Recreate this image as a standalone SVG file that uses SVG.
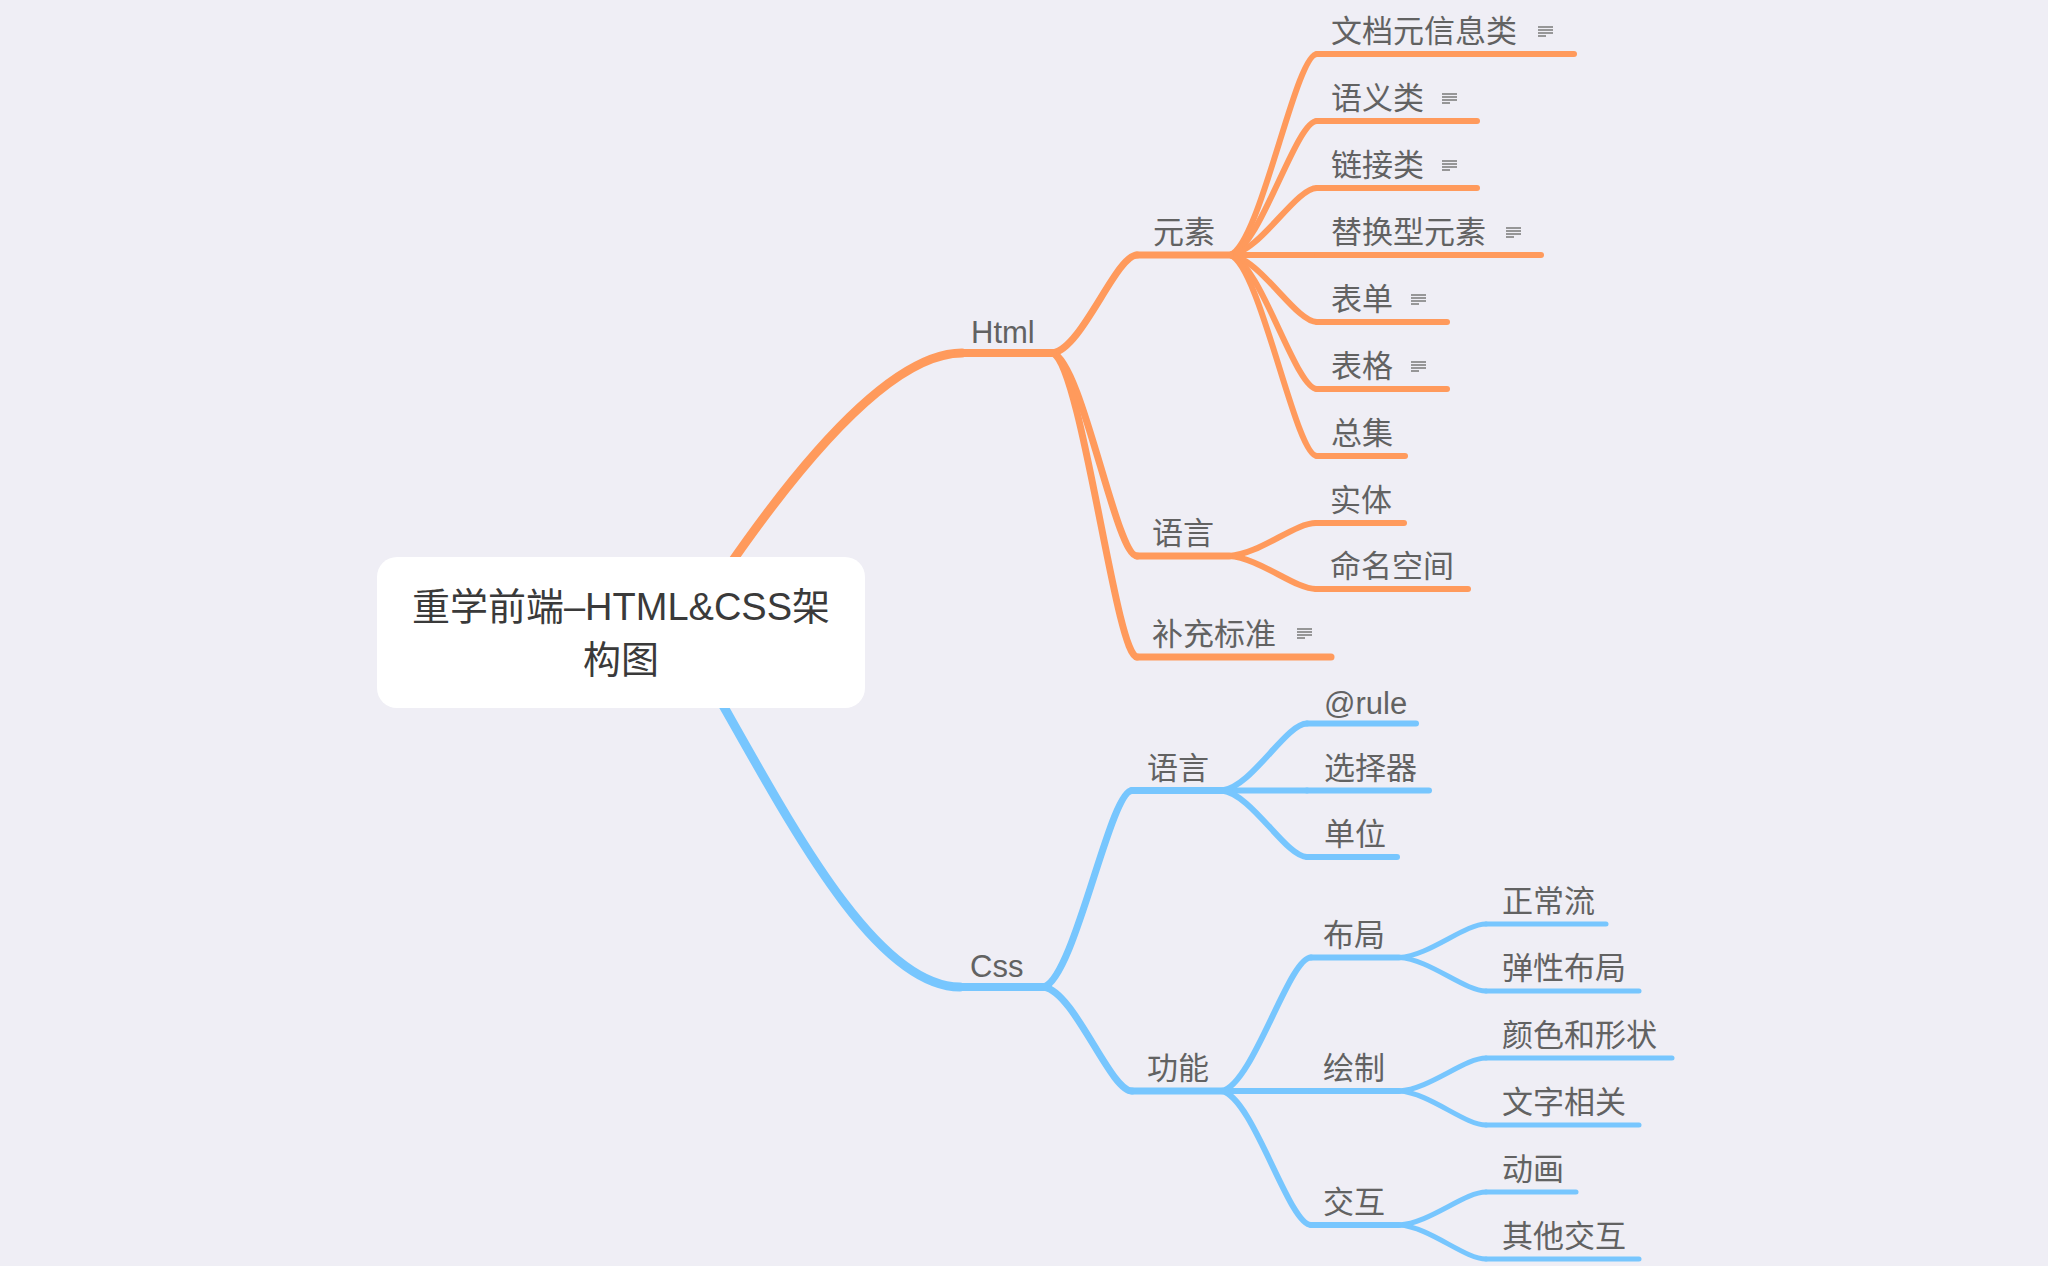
<svg xmlns="http://www.w3.org/2000/svg" xmlns:xlink="http://www.w3.org/1999/xlink" width="2048" height="1266" viewBox="0 0 2048 1266">
<defs>
<style>
.o{stroke:#FF9A5C;fill:none;stroke-linecap:round;stroke-linejoin:round}
.b{stroke:#77C6FE;fill:none;stroke-linecap:round;stroke-linejoin:round}
.w1{stroke-width:9}
.w2{stroke-width:7}
.w3{stroke-width:6}
.w4{stroke-width:5}
.t{font-family:"Liberation Sans","Noto Sans CJK SC",sans-serif;font-size:31px;fill:#626262}
.root{font-family:"Liberation Sans","Noto Sans CJK SC",sans-serif;font-size:38px;fill:#3a3a3a;text-anchor:middle}
.nl{stroke:#808080;stroke-width:1.6;fill:none}
</style>
<g id="note">
<line class="nl" x1="0" y1="0" x2="15" y2="0"/>
<line class="nl" x1="0" y1="3" x2="15" y2="3"/>
<line class="nl" x1="0" y1="6" x2="15" y2="6"/>
<line class="nl" x1="0" y1="9" x2="8" y2="9"/>
</g>
</defs>
<rect x="0" y="0" width="2048" height="1266" fill="#EFEEF5"/>

<g id="connectors">
<path class="o w1" d="M685 632 C757 520 875 353 962 353"/>
<path class="b w1" d="M680 632 C760 760 860 987 960 987"/>
<path class="o w2" d="M1053 353 C1082.4 348.1 1116 255 1137 255"/>
<path class="o w2" d="M1053 353 C1082.4 363.2 1116 556 1137 556"/>
<path class="o w2" d="M1053 353 C1082.4 368.2 1116 657 1137 657"/>
<path class="o w3" d="M1230 255 C1260.5 245 1295.3 54 1317 54"/>
<path class="o w3" d="M1230 255 C1260.5 248.3 1295.3 121 1317 121"/>
<path class="o w3" d="M1230 255 C1260.5 251.7 1295.3 188 1317 188"/>
<path class="o w3" d="M1230 255 L1317 255"/>
<path class="o w3" d="M1230 255 C1260.5 258.4 1295.3 322 1317 322"/>
<path class="o w3" d="M1230 255 C1260.5 261.7 1295.3 389 1317 389"/>
<path class="o w3" d="M1230 255 C1260.5 265 1295.3 456 1317 456"/>
<path class="o w3" d="M1229 556 C1259.5 554.4 1294.3 523 1316 523"/>
<path class="o w3" d="M1229 556 C1259.5 557.7 1294.3 589 1316 589"/>
<path class="b w2" d="M1044 987 C1074.8 977.2 1110 790.5 1132 790.5"/>
<path class="b w2" d="M1044 987 C1074.8 992.2 1110 1091 1132 1091"/>
<path class="b w3" d="M1222 790.5 C1251.8 787.2 1285.8 723.5 1307 723.5"/>
<path class="b w3" d="M1222 790.5 L1307 790.5"/>
<path class="b w3" d="M1222 790.5 C1251.8 793.8 1285.8 857 1307 857"/>
<path class="b w3" d="M1222 1091 C1253.2 1084.3 1288.8 957.5 1311 957.5"/>
<path class="b w3" d="M1222 1091 L1311 1091"/>
<path class="b w3" d="M1222 1091 C1253.2 1097.7 1288.8 1225 1311 1225"/>
<path class="b w4" d="M1399 957.5 C1429.5 955.8 1464.3 924 1486 924"/>
<path class="b w4" d="M1399 957.5 C1429.5 959.2 1464.3 991 1486 991"/>
<path class="b w4" d="M1399 1091 C1429.5 1089.4 1464.3 1058 1486 1058"/>
<path class="b w4" d="M1399 1091 C1429.5 1092.7 1464.3 1125 1486 1125"/>
<path class="b w4" d="M1399 1225 C1429.5 1223.4 1464.3 1192 1486 1192"/>
<path class="b w4" d="M1399 1225 C1429.5 1226.7 1464.3 1259 1486 1259"/>
</g>

<g id="root">
<rect x="377" y="557" width="488" height="151" rx="20" ry="20" fill="#FFFFFF"/>
<text class="root" x="621" y="620">重学前端–HTML&amp;CSS架</text>
<text class="root" x="621" y="673">构图</text>
</g>

<g id="n-html"><line class="o w2" x1="958" y1="353" x2="1053" y2="353" style="stroke-width:8"/><text class="t" x="971" y="343">Html</text></g>
<g id="n-yuansu"><line class="o w2" x1="1137" y1="255" x2="1230" y2="255"/><text class="t" x="1153" y="243">元素</text></g>
<g id="n-h-yuyan"><line class="o w2" x1="1137" y1="556" x2="1229" y2="556"/><text class="t" x="1152" y="544">语言</text></g>
<g id="n-buchong"><line class="o w2" x1="1137" y1="657" x2="1331" y2="657"/><text class="t" x="1152" y="645">补充标准</text><use xlink:href="#note" x="1297" y="629"/></g>

<g id="n-wendang"><line class="o w3" x1="1317" y1="54" x2="1574" y2="54"/><text class="t" x="1331" y="42">文档元信息类</text><use xlink:href="#note" x="1538" y="27"/></g>
<g id="n-yuyi"><line class="o w3" x1="1317" y1="121" x2="1477" y2="121"/><text class="t" x="1331" y="109">语义类</text><use xlink:href="#note" x="1442" y="94"/></g>
<g id="n-lianjie"><line class="o w3" x1="1317" y1="188" x2="1477" y2="188"/><text class="t" x="1331" y="176">链接类</text><use xlink:href="#note" x="1442" y="161"/></g>
<g id="n-tihuan"><line class="o w3" x1="1317" y1="255" x2="1541" y2="255"/><text class="t" x="1331" y="243">替换型元素</text><use xlink:href="#note" x="1506" y="228"/></g>
<g id="n-biaodan"><line class="o w3" x1="1317" y1="322" x2="1447" y2="322"/><text class="t" x="1331" y="310">表单</text><use xlink:href="#note" x="1411" y="295"/></g>
<g id="n-biaoge"><line class="o w3" x1="1317" y1="389" x2="1447" y2="389"/><text class="t" x="1331" y="377">表格</text><use xlink:href="#note" x="1411" y="362"/></g>
<g id="n-zongji"><line class="o w3" x1="1317" y1="456" x2="1405" y2="456"/><text class="t" x="1331" y="444">总集</text></g>
<g id="n-shiti"><line class="o w3" x1="1316" y1="523" x2="1404" y2="523"/><text class="t" x="1330" y="511">实体</text></g>
<g id="n-mingming"><line class="o w3" x1="1316" y1="589" x2="1468" y2="589"/><text class="t" x="1330" y="577">命名空间</text></g>

<g id="n-css"><line class="b w2" x1="956" y1="987" x2="1044" y2="987" style="stroke-width:8"/><text class="t" x="970" y="977">Css</text></g>
<g id="n-c-yuyan"><line class="b w2" x1="1132" y1="790.5" x2="1222" y2="790.5"/><text class="t" x="1147" y="778.5">语言</text></g>
<g id="n-gongneng"><line class="b w2" x1="1132" y1="1091" x2="1222" y2="1091"/><text class="t" x="1147" y="1079">功能</text></g>
<g id="n-rule"><line class="b w3" x1="1307" y1="723.5" x2="1416" y2="723.5"/><text class="t" x="1324" y="713.5">@rule</text></g>
<g id="n-xuanze"><line class="b w3" x1="1307" y1="790.5" x2="1429" y2="790.5"/><text class="t" x="1324" y="778.5">选择器</text></g>
<g id="n-danwei"><line class="b w3" x1="1307" y1="857" x2="1397" y2="857"/><text class="t" x="1324" y="845">单位</text></g>
<g id="n-buju"><line class="b w3" x1="1311" y1="957.5" x2="1399" y2="957.5"/><text class="t" x="1323" y="945.5">布局</text></g>
<g id="n-huizhi"><line class="b w3" x1="1311" y1="1091" x2="1399" y2="1091"/><text class="t" x="1323" y="1079">绘制</text></g>
<g id="n-jiaohu"><line class="b w3" x1="1311" y1="1225" x2="1399" y2="1225"/><text class="t" x="1323" y="1213">交互</text></g>
<g id="n-zhengchang"><line class="b w4" x1="1486" y1="924" x2="1606" y2="924"/><text class="t" x="1502" y="912">正常流</text></g>
<g id="n-tanxing"><line class="b w4" x1="1486" y1="991" x2="1639" y2="991"/><text class="t" x="1502" y="979">弹性布局</text></g>
<g id="n-yanse"><line class="b w4" x1="1486" y1="1058" x2="1672" y2="1058"/><text class="t" x="1502" y="1046">颜色和形状</text></g>
<g id="n-wenzi"><line class="b w4" x1="1486" y1="1125" x2="1639" y2="1125"/><text class="t" x="1502" y="1113">文字相关</text></g>
<g id="n-donghua"><line class="b w4" x1="1486" y1="1192" x2="1576" y2="1192"/><text class="t" x="1502" y="1180">动画</text></g>
<g id="n-qita"><line class="b w4" x1="1486" y1="1259" x2="1639" y2="1259"/><text class="t" x="1502" y="1247">其他交互</text></g>
</svg>
